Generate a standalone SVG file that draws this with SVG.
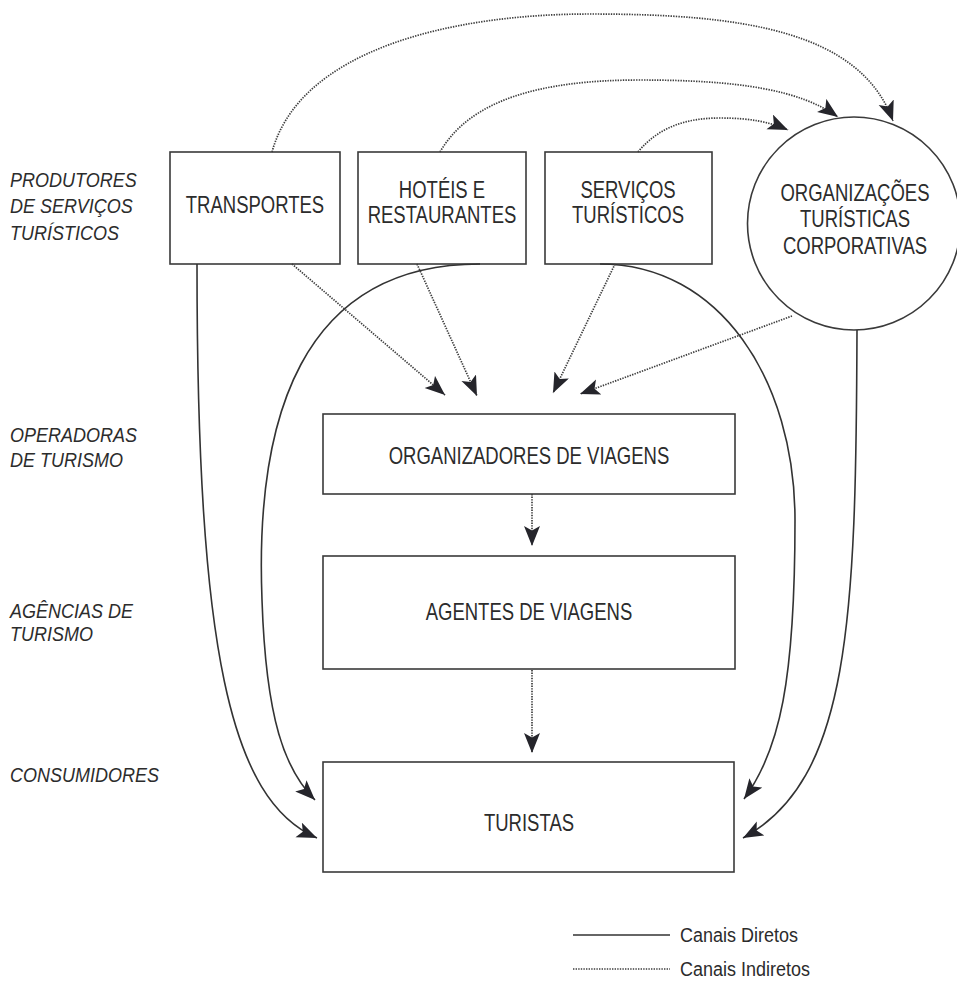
<svg xmlns="http://www.w3.org/2000/svg" width="957" height="989" viewBox="0 0 957 989">
  <defs>
    <style>
      .box { fill: none; stroke: #3a3a3a; stroke-width: 1.6; }
      .lbl { font-family: "Liberation Sans", Arial, sans-serif; font-size: 18.5px; fill: #2c2c2c; text-anchor: middle; }
      .side { font-family: "Liberation Sans", Arial, sans-serif; font-size: 18px; font-style: italic; fill: #2c2c2c; }
      .leg { font-family: "Liberation Sans", Arial, sans-serif; font-size: 18px; fill: #2c2c2c; }
      .direct { fill: none; stroke: #333333; stroke-width: 1.6; }
      .indirect { fill: none; stroke: #3e3e3e; stroke-width: 1.7; stroke-dasharray: 1.4 1.2; }
    </style>
    <marker id="head" markerUnits="userSpaceOnUse" markerWidth="24" markerHeight="18" refX="20" refY="8" orient="auto">
      <path d="M0,0 L20,8 L0,16 L4.5,8 Z" fill="#25252b"/>
    </marker>
  </defs>

  <rect width="957" height="989" fill="#ffffff"/>

  <!-- level captions -->
  <g id="captions">
    <text class="side" transform="translate(10,187) scale(1,1.12)">PRODUTORES</text>
    <text class="side" transform="translate(10,213) scale(1,1.12)">DE SERVIÇOS</text>
    <text class="side" transform="translate(10,240) scale(1,1.12)">TURÍSTICOS</text>
    <text class="side" transform="translate(10,442) scale(1,1.12)">OPERADORAS</text>
    <text class="side" transform="translate(10,467) scale(1,1.12)">DE TURISMO</text>
    <text class="side" transform="translate(10,618) scale(1,1.12)">AGÊNCIAS DE</text>
    <text class="side" transform="translate(10,641) scale(1,1.12)">TURISMO</text>
    <text class="side" transform="translate(10,782) scale(1,1.12)">CONSUMIDORES</text>
  </g>

  <!-- nodes -->
  <g id="transportes">
    <rect class="box" x="170" y="152" width="170" height="112"/>
    <text class="lbl" transform="translate(255,213) scale(1,1.25)">TRANSPORTES</text>
  </g>
  <g id="hoteis">
    <rect class="box" x="358" y="152" width="168" height="112"/>
    <text class="lbl" transform="translate(442,198) scale(1,1.25)">HOTÉIS E</text>
    <text class="lbl" transform="translate(442,223) scale(1,1.25)">RESTAURANTES</text>
  </g>
  <g id="servicos">
    <rect class="box" x="545" y="152" width="167" height="112"/>
    <text class="lbl" transform="translate(628,198) scale(1,1.25)">SERVIÇOS</text>
    <text class="lbl" transform="translate(628,223) scale(1,1.25)">TURÍSTICOS</text>
  </g>
  <g id="organizacoes">
    <circle class="box" cx="854" cy="223.5" r="106.5"/>
    <text class="lbl" transform="translate(855,201) scale(1,1.25)">ORGANIZAÇÕES</text>
    <text class="lbl" transform="translate(855,227) scale(1,1.25)">TURÍSTICAS</text>
    <text class="lbl" transform="translate(855,254) scale(1,1.25)">CORPORATIVAS</text>
  </g>
  <g id="organizadores">
    <rect class="box" x="323" y="414" width="412" height="80"/>
    <text class="lbl" transform="translate(529,464) scale(1,1.25)">ORGANIZADORES DE VIAGENS</text>
  </g>
  <g id="agentes">
    <rect class="box" x="323" y="556" width="412" height="113"/>
    <text class="lbl" transform="translate(529,620) scale(1,1.25)">AGENTES DE VIAGENS</text>
  </g>
  <g id="turistas">
    <rect class="box" x="323" y="762" width="411" height="110"/>
    <text class="lbl" transform="translate(529,831) scale(1,1.25)">TURISTAS</text>
  </g>

  <!-- connectors -->
  <g id="connectors">
    <!-- direct channels -->
    <path class="direct" d="M197,264 C197,650 230,800 317,838" marker-end="url(#head)"/>
    <path class="direct" d="M480,264 C300,264 255,420 262,600 C266,720 285,770 315,800" marker-end="url(#head)"/>
    <path class="direct" d="M600,264 C720,264 795,380 795,520 C795,680 780,750 744,799" marker-end="url(#head)"/>
    <path class="direct" d="M857,330 C856,620 850,780 743,838" marker-end="url(#head)"/>

    <!-- indirect channels to the corporate organisations -->
    <path class="indirect" d="M272,152 C300,50 450,14 590,14 C740,14 860,30 893,121" marker-end="url(#head)"/>
    <path class="indirect" d="M440,152 C470,100 540,80 640,80 C740,80 800,90 838,117" marker-end="url(#head)"/>
    <path class="indirect" d="M638,152 C660,125 690,118 720,118 C750,118 770,122 788,130" marker-end="url(#head)"/>

    <!-- indirect channels to the tour organisers -->
    <path class="indirect" d="M292,264 L445,395" marker-end="url(#head)"/>
    <path class="indirect" d="M417,264 L477,396" marker-end="url(#head)"/>
    <path class="indirect" d="M615,264 L553,393" marker-end="url(#head)"/>
    <path class="indirect" d="M792,316 L580,394" marker-end="url(#head)"/>

    <!-- down the chain -->
    <path class="indirect" d="M532,494 L532,546" marker-end="url(#head)"/>
    <path class="indirect" d="M532,670 L532,753" marker-end="url(#head)"/>
  </g>

  <!-- legend -->
  <g id="legend">
    <line class="direct" x1="573" y1="935" x2="670" y2="935"/>
    <text class="leg" transform="translate(680,942) scale(1,1.12)">Canais Diretos</text>
    <line class="indirect" x1="573" y1="969" x2="670" y2="969"/>
    <text class="leg" transform="translate(680,976) scale(1,1.12)">Canais Indiretos</text>
  </g>
</svg>
